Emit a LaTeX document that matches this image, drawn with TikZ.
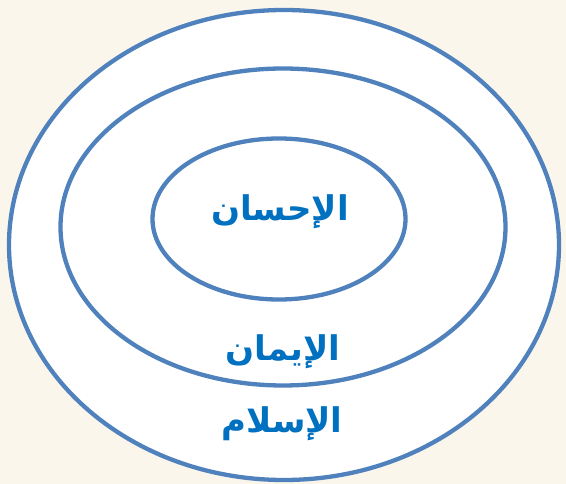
\documentclass[tikz,border=0pt]{standalone}
\usepackage{fontspec}
\newfontfamily\arabicfont[Script=Arabic]{DejaVu Sans}
\TeXXeTstate=1
\usetikzlibrary{shapes.geometric}
\definecolor{ringblue}{HTML}{4F81BD}
\definecolor{textblue}{HTML}{0070C0}
\definecolor{paper}{HTML}{FBF6EC}

\begin{document}
\begin{tikzpicture}[x=1pt, y=-1pt,
  ring/.style={draw=ringblue, line width=4.3pt, ellipse, inner sep=0pt},
  word/.style={text=textblue, font=\arabicfont\bfseries\fontsize{34}{40}\selectfont, inner sep=0pt}
]
\fill[paper] (0,0) rectangle (566,484);
\useasboundingbox (0,0) rectangle (566,484);

\node[ring, fill=white, minimum width=550pt, minimum height=470pt] (islam) at (284,245) {};
\node[ring, minimum width=445pt, minimum height=317pt] (iman) at (283,227) {};
\node[ring, minimum width=253pt, minimum height=161pt] (ihsan) at (279,219) {};

\node[word] (tihsan) at (280,212) {\beginR الإحسان\endR};
\node[word] (timan) at (283,352) {\beginR الإيمان\endR};
\node[word] (tislam) at (282,424) {\beginR الإسلام\endR};

\end{tikzpicture}
\end{document}
